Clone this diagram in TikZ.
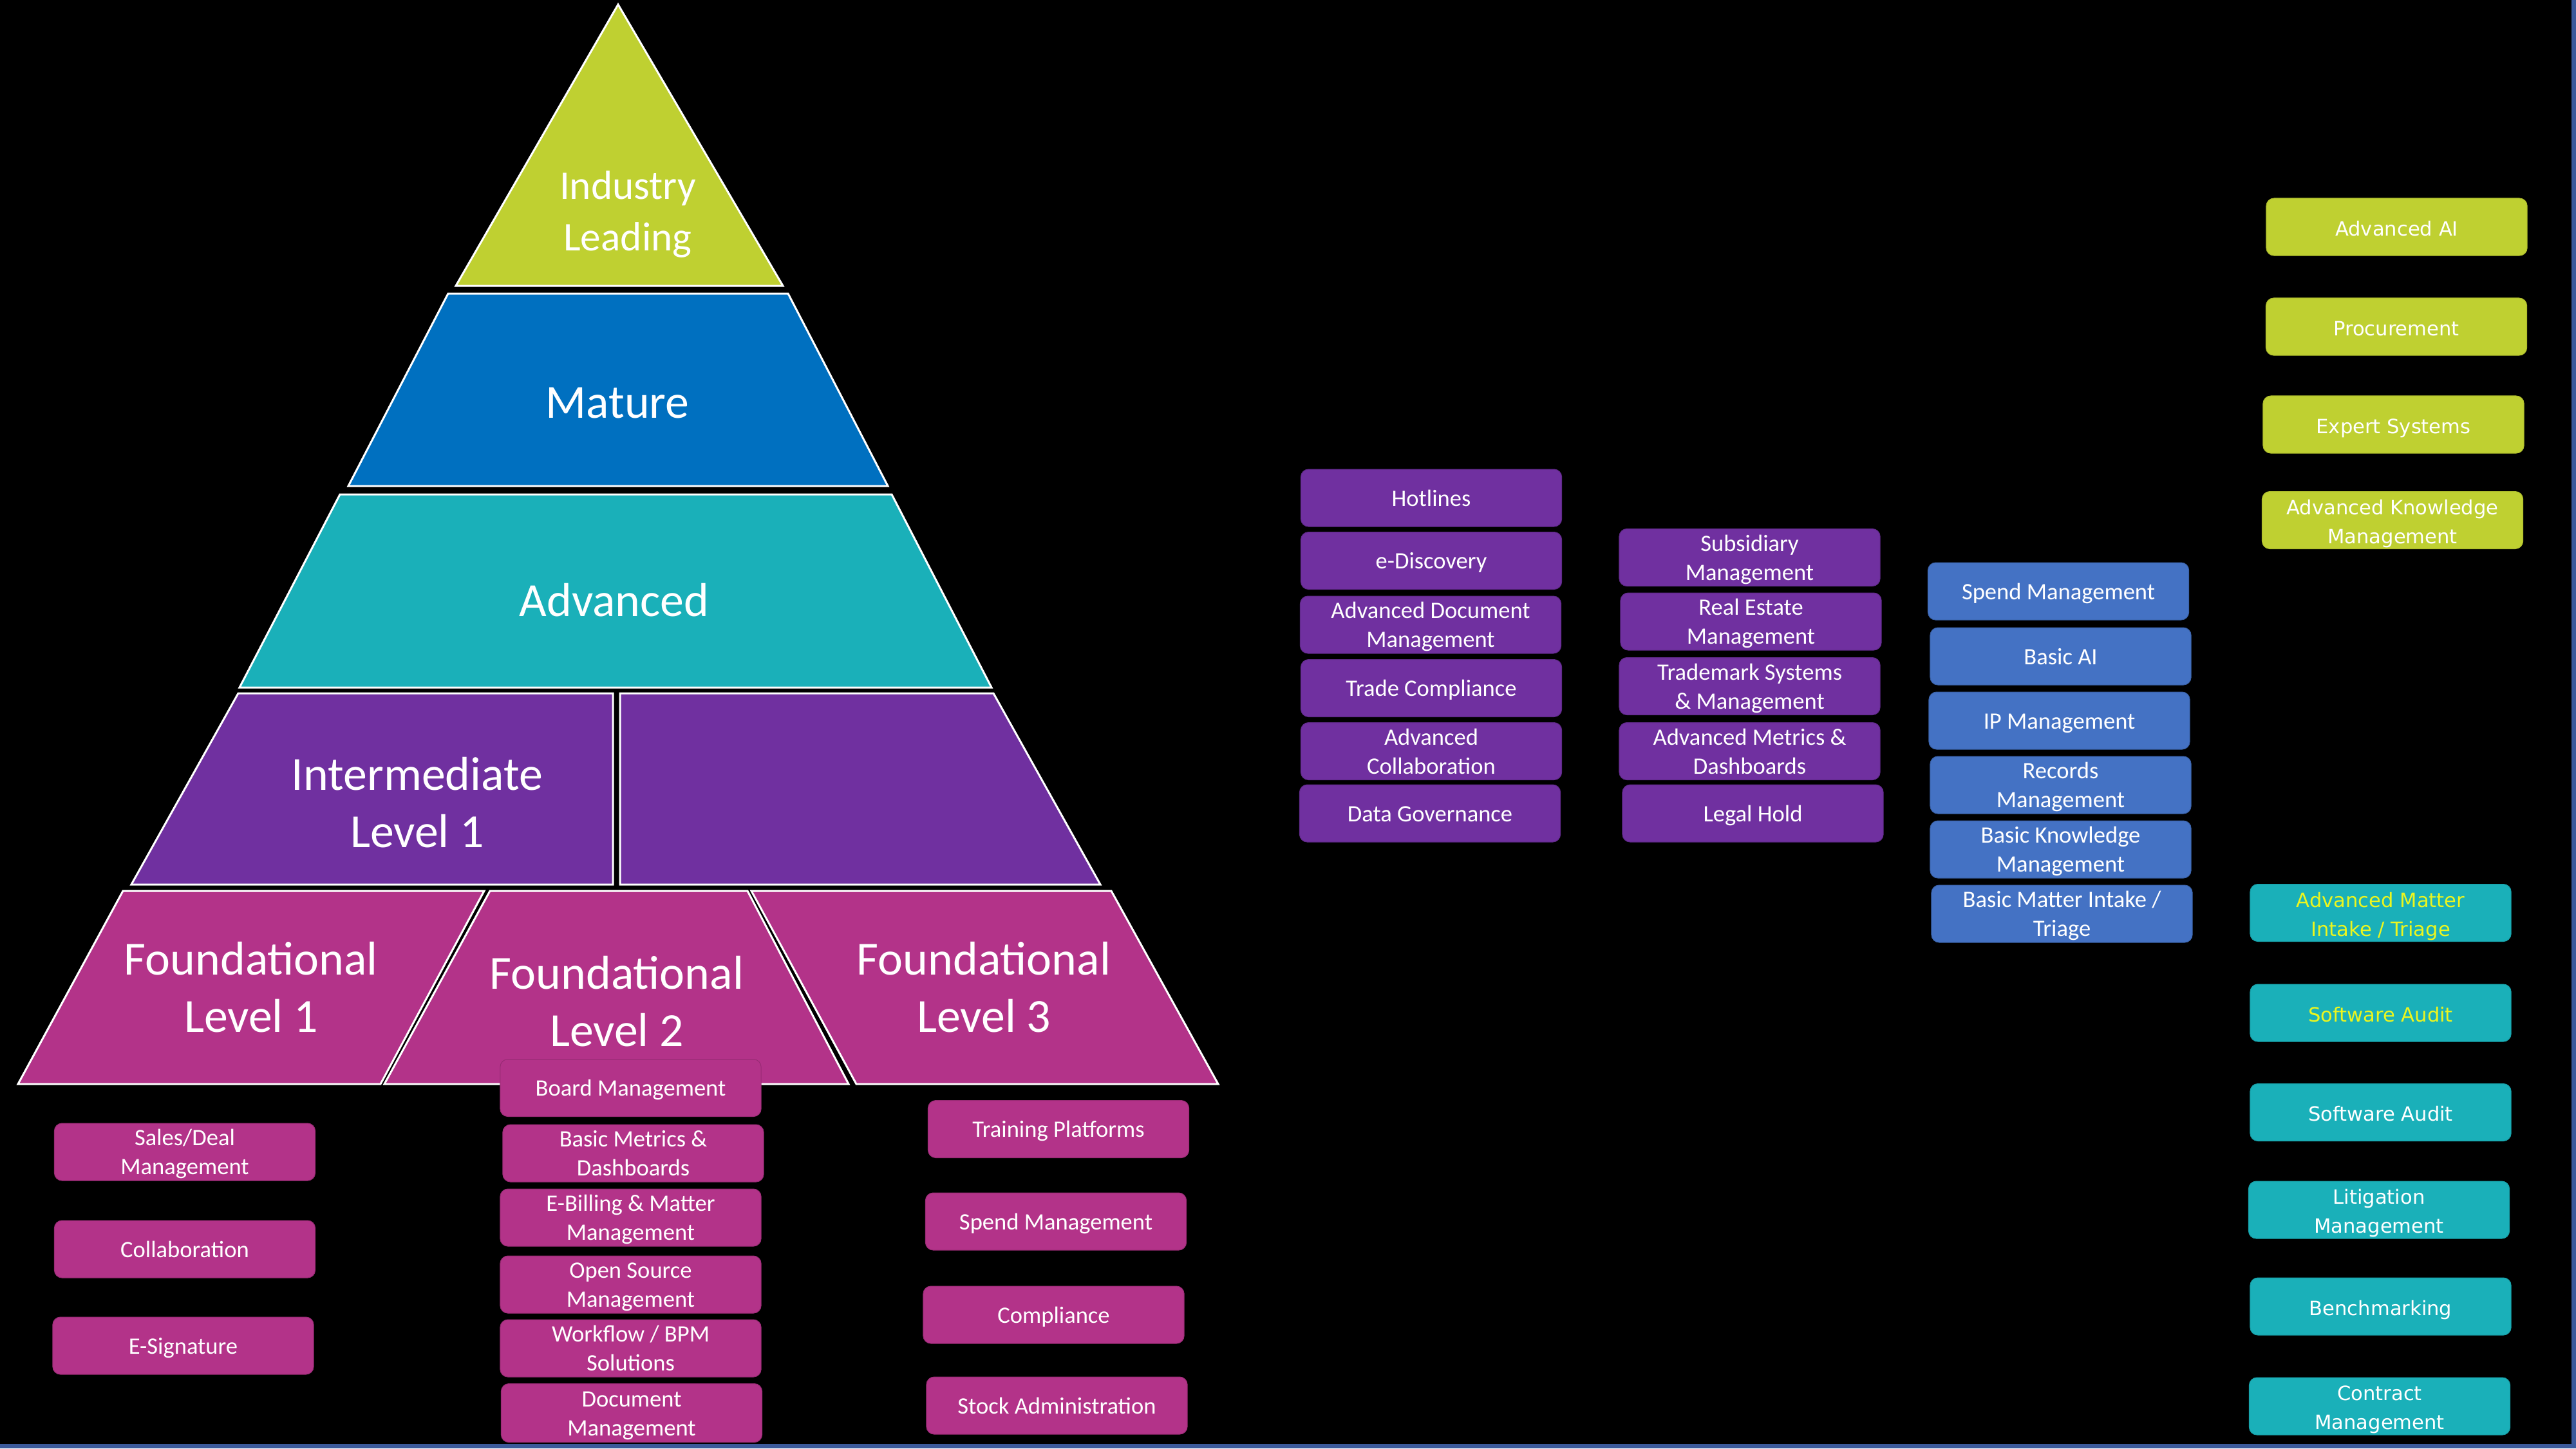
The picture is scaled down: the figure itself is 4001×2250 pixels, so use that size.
\documentclass[tikz,border=0pt]{standalone}
\usepackage{fontspec}
\setmainfont{Carlito}
\newfontfamily\widefont{DejaVu Sans}
\definecolor{cLime}{RGB}{191,208,49}
\definecolor{cMature}{RGB}{0,112,192}
\definecolor{cTeal}{RGB}{26,176,185}
\definecolor{cPurple}{RGB}{112,48,160}
\definecolor{cMag}{RGB}{179,51,137}
\definecolor{cBlue}{RGB}{68,114,196}
\definecolor{cYellow}{RGB}{236,246,30}
\definecolor{cFrame}{RGB}{60,90,155}
% fixed line metrics so every tile places its text the same way
\newcommand{\narrowstrut}{\rule[-0.25em]{0pt}{1.2em}}
\newcommand{\widestrut}{\rule[-0.25em]{0pt}{1.4em}}
\let\tilestrut\narrowstrut
\newcommand{\tx}[1]{\tilestrut#1\tilestrut}
\begin{document}
\begin{tikzpicture}[x=0.01cm,y=-0.01cm,
  tier/.style={draw=white,line width=0.03cm,line join=miter},
  tierlabel/.style={text=white,align=center,inner sep=0pt,font=\fontsize{21}{25.3}\selectfont},
  tile/.style={rounded corners=0.12cm,minimum width=4.05cm,minimum height=0.89cm,
    inner sep=0pt,align=center,text=white,line width=0.01cm,
    font=\fontsize{10.4}{12.8}\selectfont},
  magtile/.style={tile,fill=cMag,draw=cMag!85!black},
  purtile/.style={tile,fill=cPurple,draw=cPurple!85!black},
  bluetile/.style={tile,fill=cBlue,draw=cBlue!85!black},
  widetile/.style={tile,font=\widefont\fontsize{8.7}{12.8}\selectfont,
    execute at begin node={\let\tilestrut\widestrut}},
  limetile/.style={widetile,fill=cLime,draw=cLime!90!black},
  tealtile/.style={widetile,fill=cTeal,draw=cTeal!90!black}
]
\useasboundingbox (0,0) rectangle (4001,2250);
\fill[black] (0,0) rectangle (4001,2250);
\fill[cFrame] (3994,0) rectangle (4001,2250);
\fill[cFrame] (0,2243) rectangle (4001,2250);

% pyramid tiers
\filldraw[tier,fill=cLime] (960,7) -- (1216,444) -- (708,444) -- cycle;
\filldraw[tier,fill=cMature] (696,456) -- (1224,456) -- (1379,755) -- (541,755) -- cycle;
\filldraw[tier,fill=cTeal] (528,768) -- (1385,768) -- (1540,1068) -- (372,1068) -- cycle;
\filldraw[tier,fill=cPurple] (370,1077) -- (952,1077) -- (952,1374) -- (204,1374) -- cycle;
\filldraw[tier,fill=cPurple] (963,1077) -- (1543,1077) -- (1709,1374) -- (963,1374) -- cycle;
\filldraw[tier,fill=cMag] (191,1384) -- (752,1384) -- (591,1684) -- (28,1684) -- cycle;
\filldraw[tier,fill=cMag] (761,1384) -- (1161,1384) -- (1318,1684) -- (597,1684) -- cycle;
\filldraw[tier,fill=cMag] (1167,1384) -- (1726,1384) -- (1892,1684) -- (1330,1684) -- cycle;

\node[tierlabel,font=\fontsize{18}{23}\selectfont] (lead) at (975,333) {Industry\\Leading};
\node[tierlabel] (mature) at (959,626) {Mature};
\node[tierlabel] (adv) at (954,932) {Advanced};
\node[tierlabel] (inter) at (648,1247) {Intermediate\\Level 1};
\node[tierlabel] (found1) at (390,1534) {Foundational\\Level 1};
\node[tierlabel] (found2) at (958,1556) {Foundational\\Level 2};
\node[tierlabel] (found3) at (1528,1534) {Foundational\\Level 3};

% foundational level 1 tools
\node[magtile] (sales) at (287,1789.5) {\tx{Sales/Deal\\Management}};
\node[magtile] (collab) at (287,1940.5) {\tx{Collaboration}};
\node[magtile] (esig) at (284.5,2090.5) {\tx{E-Signature}};

% foundational level 2 tools
\node[magtile] (board) at (979.5,1690) {\tx{Board Management}};
\node[magtile] (metrics) at (983.5,1791.5) {\tx{Basic Metrics \&\\Dashboards}};
\node[magtile] (ebill) at (979.5,1891.5) {\tx{E-Billing \& Matter\\Management}};
\node[magtile] (oss) at (979.5,1995.5) {\tx{Open Source\\Management}};
\node[magtile] (workflow) at (979.5,2094.5) {\tx{Workflow / BPM\\Solutions}};
\node[magtile,minimum height=0.91cm] (docmgmt) at (981,2195) {\tx{Document\\Management}};

% foundational level 3 tools
\node[magtile] (training) at (1644,1754) {\tx{Training Platforms}};
\node[magtile] (spendF) at (1640,1897.5) {\tx{Spend Management}};
\node[magtile] (compliance) at (1636.5,2042.5) {\tx{Compliance}};
\node[magtile] (stock) at (1641.5,2183.5) {\tx{Stock Administration}};

% intermediate tools
\node[purtile] (hotlines) at (2223,773.5) {\tx{Hotlines}};
\node[purtile] (ediscovery) at (2223,871) {\tx{e-Discovery}};
\node[purtile] (advdoc) at (2222,970.5) {\tx{Advanced Document\\Management}};
\node[purtile] (trade) at (2223,1069) {\tx{Trade Compliance}};
\node[purtile] (advcollab) at (2223,1167) {\tx{Advanced\\Collaboration}};
\node[purtile] (datagov) at (2221,1263.5) {\tx{Data Governance}};

\node[purtile] (subsidiary) at (2717.5,866) {\tx{Subsidiary\\Management}};
\node[purtile] (realestate) at (2719.5,965.5) {\tx{Real Estate\\Management}};
\node[purtile] (trademark) at (2717.5,1066) {\tx{Trademark Systems\\\& Management}};
\node[purtile] (advmetrics) at (2717.5,1167) {\tx{Advanced Metrics \&\\Dashboards}};
\node[purtile] (legalhold) at (2722.5,1263.5) {\tx{Legal Hold}};

% mature tools
\node[bluetile] (spendM) at (3197,918.5) {\tx{Spend Management}};
\node[bluetile] (basicai) at (3200.5,1019.5) {\tx{Basic AI}};
\node[bluetile] (ipm) at (3198.5,1119.5) {\tx{IP Management}};
\node[bluetile] (records) at (3200.5,1219.5) {\tx{Records\\Management}};
\node[bluetile] (basickm) at (3200.5,1319.5) {\tx{Basic Knowledge\\Management}};
\node[bluetile] (basicmatter) at (3202.5,1419.5) {\tx{Basic Matter Intake /\\Triage}};

% industry leading tools
\node[limetile] (advai) at (3722.5,352.5) {\tx{Advanced AI}};
\node[limetile] (procure) at (3722,507.5) {\tx{Procurement}};
\node[limetile] (expert) at (3717.5,659.5) {\tx{Expert Systems}};
\node[limetile] (advkm) at (3716,808) {\tx{Advanced Knowledge\\Management}};

% advanced tools
\node[tealtile,text=cYellow] (advmatter) at (3697.5,1418) {\tx{Advanced Matter\\Intake / Triage}};
\node[tealtile,text=cYellow] (swauditA) at (3697.5,1573.5) {\tx{Software Audit}};
\node[tealtile] (swauditB) at (3697.5,1728) {\tx{Software Audit}};
\node[tealtile] (litigation) at (3695,1879.5) {\tx{Litigation\\Management}};
\node[tealtile] (bench) at (3697.5,2029.5) {\tx{Benchmarking}};
\node[tealtile] (contract) at (3696,2184.5) {\tx{Contract\\Management}};
\end{tikzpicture}
\end{document}
